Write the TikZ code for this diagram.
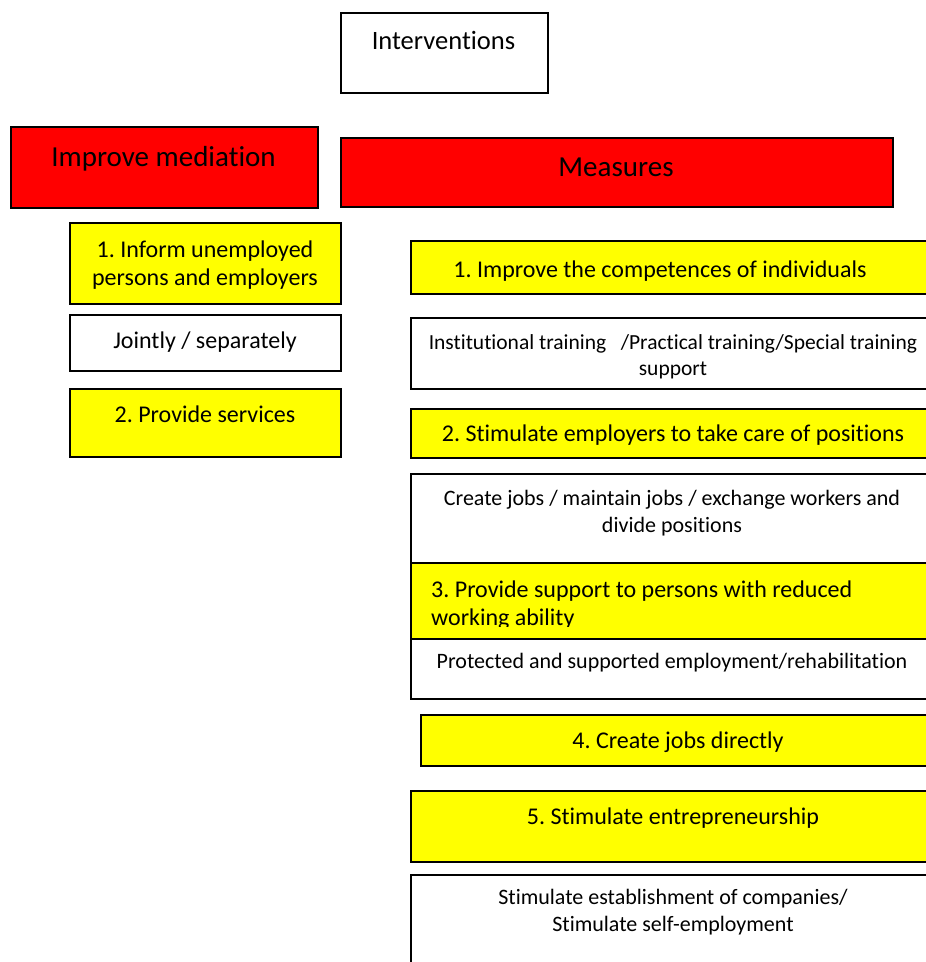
\documentclass[tikz,border=0pt]{standalone}
\usepackage{fontspec}
\setmainfont{Carlito}[Ligatures=NoCommon]
\frenchspacing
\definecolor{boxred}{RGB}{255,0,0}
\definecolor{boxyellow}{RGB}{255,255,0}
\begin{document}
\begin{tikzpicture}[x=1pt,y=-1pt,
  box/.style={draw=black, line width=1.6pt, inner sep=0pt, anchor=north west},
  redbox/.style={box, fill=boxred},
  yellowbox/.style={box, fill=boxyellow},
  whitebox/.style={box, fill=white},
  txt/.style={anchor=base, inner sep=0pt, align=center},
  big/.style={txt, font=\fontsize{29}{34}\selectfont},
  mid/.style={txt, font=\fontsize{24}{28}\selectfont},
  small/.style={txt, font=\fontsize{22}{27}\selectfont}
]
\clip (0,0) rectangle (926,962);
\fill[white] (0,0) rectangle (926,962);

% top node
\node[whitebox, minimum width=207pt, minimum height=80pt] (interv) at (340,12) {};
\node[txt, font=\fontsize{26.5}{31}\selectfont] (interv-t) at (443.5,49) {Interventions};

% the two headings
\node[redbox, minimum width=307pt, minimum height=81pt] (medi) at (10,126) {};
\node[big] (medi-t) at (163.5,166) {Improve mediation};
\node[redbox, minimum width=552pt, minimum height=69pt] (meas) at (340,137) {};
\node[big] (meas-t) at (616,176) {Measures};

% mediation column
\node[yellowbox, minimum width=271pt, minimum height=81pt] (inform) at (69,222) {};
\node[mid] (inform-t) at (205,257) {\begin{tabular}[t]{@{}c@{}}1. Inform unemployed\\persons and employers\end{tabular}};
\node[whitebox, minimum width=271pt, minimum height=56pt] (joint) at (69,314) {};
\node[mid] (joint-t) at (205,348) {Jointly / separately};
\node[yellowbox, minimum width=271pt, minimum height=68pt] (serv) at (69,388) {};
\node[mid] (serv-t) at (205,422) {2. Provide services};

% measures column
\node[yellowbox, minimum width=526pt, minimum height=53pt] (comp) at (410,240) {};
\node[mid] (comp-t) at (660,277) {1. Improve the competences of individuals};
\node[whitebox, minimum width=526pt, minimum height=71pt] (inst) at (410,317) {};
\node[txt, font=\fontsize{21.5}{26}\selectfont] (inst-t) at (673,349) {\begin{tabular}[t]{@{}c@{}}Institutional training \ \ /Practical training/Special training\\support\end{tabular}};
\node[yellowbox, minimum width=526pt, minimum height=49pt] (empl) at (410,408) {};
\node[mid] (empl-t) at (673,441) {2. Stimulate employers to take care of positions};
\node[whitebox, minimum width=526pt, minimum height=89pt] (jobs) at (410,473) {};
\node[small] (jobs-t) at (672,505) {\begin{tabular}[t]{@{}c@{}}Create jobs / maintain jobs / exchange workers and\\divide positions\end{tabular}};
\node[yellowbox, minimum width=526pt, minimum height=76pt] (supp) at (410,562) {};
\begin{scope}
  % the text frame cuts off the second line just below its baseline
  \clip (410,562) rectangle (936,626);
  \node[mid, anchor=base west] (supp-t) at (431,597) {\begin{tabular}[t]{@{}l@{}}3. Provide support to persons with reduced\\working ability\end{tabular}};
\end{scope}
\node[whitebox, minimum width=526pt, minimum height=60pt] (prot) at (410,638) {};
\node[small] (prot-t) at (672,668) {Protected and supported employment/rehabilitation};
\node[yellowbox, minimum width=516pt, minimum height=51pt] (direct) at (420,714) {};
\node[mid] (direct-t) at (678,748) {4. Create jobs directly};
\node[yellowbox, minimum width=526pt, minimum height=71pt] (entre) at (410,790) {};
\node[mid] (entre-t) at (673,824) {5. Stimulate entrepreneurship};
\node[whitebox, minimum width=526pt, minimum height=100pt] (estab) at (410,874) {};
\node[small] (estab-t) at (673,904) {\begin{tabular}[t]{@{}c@{}}Stimulate establishment of companies/\\Stimulate self-employment\end{tabular}};
\end{tikzpicture}
\end{document}
